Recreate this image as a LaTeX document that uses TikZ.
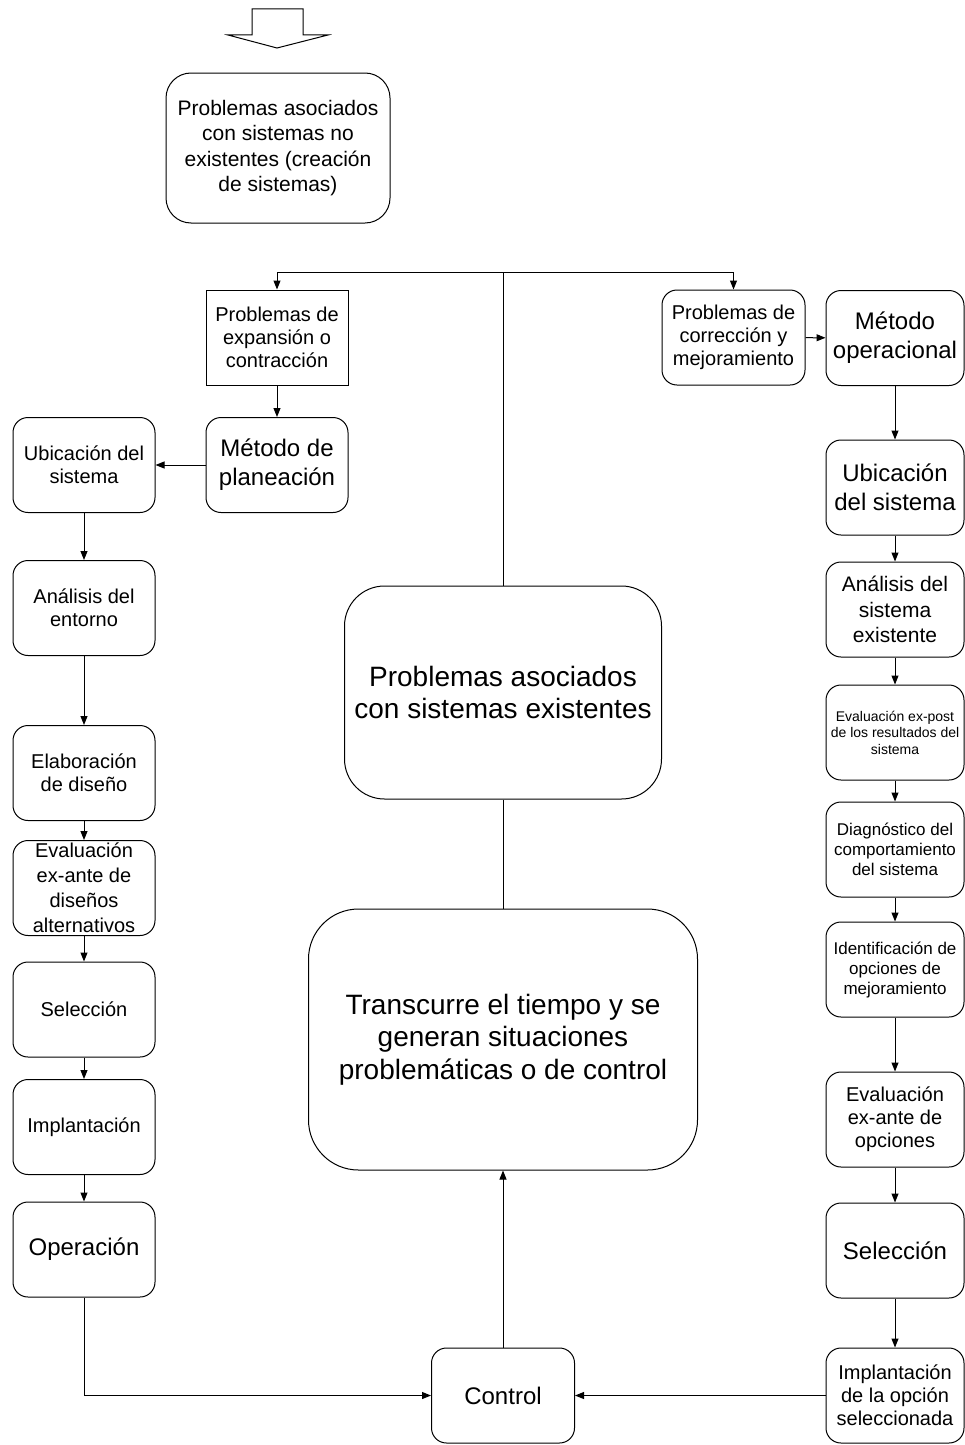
\documentclass[tikz,border=0pt]{standalone}
\usepackage{fontspec}
\setmainfont{Liberation Sans}
\usetikzlibrary{arrows.meta}

\begin{document}
\begin{tikzpicture}[x=1pt,y=-1pt,
        caja/.style={draw=black,line width=1pt,rounded corners=15pt,inner sep=0pt,align=center,minimum width=142pt,minimum height=95pt},
        der/.style={caja,minimum width=138pt},
        flecha/.style={line width=1pt,-{Triangle[length=9pt,width=7pt]}},
        linea/.style={line width=1pt},
        t14/.style={font=\fontsize{14}{16.5}\selectfont},
        t17/.style={font=\fontsize{17}{20}\selectfont},
        t20/.style={font=\fontsize{20}{23}\selectfont},
        t21/.style={font=\fontsize{21}{25.5}\selectfont},
        t24/.style={font=\fontsize{24}{29}\selectfont},
        t28/.style={font=\fontsize{28}{32.5}\selectfont}]
    \useasboundingbox (0,0) rectangle (965,1445);

    % flecha de bloque
    \draw[linea] (252,9) -- (303,9) -- (303,35) -- (328,35) -- (277,48) -- (228,35) -- (252,35) -- cycle;

    \node[caja,t21,minimum width=224pt,minimum height=150pt,rounded corners=25pt] (A) at (278,148) {Problemas asociados\\con sistemas no\\existentes (creación\\de sistemas)};
    \node[caja,t20,rounded corners=0pt] (B) at (277,337.5) {Problemas de\\expansión o\\contracción};
    \node[caja,t20,minimum width=143pt] (C) at (733.5,337.5) {Problemas de\\corrección y\\mejoramiento};
    \node[der,t24] (D) at (895,338) {Método\\operacional};
    \node[caja,t24] (E) at (277,465) {Método de\\planeación};

    % columna izquierda
    \node[caja,t20] (F) at (84,465) {Ubicación del\\sistema};
    \node[caja,t20] (G) at (84,608) {Análisis del\\entorno};
    \node[caja,t20] (H) at (84,773) {Elaboración\\de diseño};
    \node[caja,font=\fontsize{20}{25}\selectfont] (I) at (84,888) {Evaluación\\ex-ante de\\diseños\\alternativos};
    \node[caja,t20] (J) at (84,1009.5) {Selección};
    \node[caja,t20] (K) at (84,1127) {Implantación};
    \node[caja,t24] (L) at (84,1249.5) {Operación};

    % centro
    \node[caja,t28,minimum width=317pt,minimum height=213pt,rounded corners=40pt] (N) at (503,692.5) {Problemas asociados\\con sistemas existentes};
    \node[caja,t28,minimum width=389pt,minimum height=261pt,rounded corners=50pt] (O) at (503,1039.5) {Transcurre el tiempo y se\\generan situaciones\\problemáticas o de control};
    \node[caja,t24,minimum width=143pt] (M) at (503,1395.5) {Control};

    % columna derecha
    \node[der,t24] (P) at (895,487.5) {Ubicación\\del sistema};
    \node[der,t21] (Q) at (895,609.5) {Análisis del\\sistema\\existente};
    \node[der,t14] (R) at (895,732.5) {Evaluación ex-post\\de los resultados del\\sistema};
    \node[der,t17] (S) at (895,849.5) {Diagnóstico del\\comportamiento\\del sistema};
    \node[der,t17] (T) at (895,969.5) {Identificación de\\opciones de\\mejoramiento};
    \node[der,t20] (U) at (895,1119.5) {Evaluación\\ex-ante de\\opciones};
    \node[der,t24] (V) at (895,1250.5) {Selección};
    \node[der,t20] (W) at (895,1395.5) {Implantación\\de la opción\\seleccionada};

    \coordinate (Y) at (503,272);

    \draw[flecha] (Y) -| (B);
    \draw[flecha] (Y) -| (C);
    \path[linea] (Y) edge (N);
    \path[linea] (N) edge (O);
    \path[flecha] (C) edge (D);
    \path[flecha] (B) edge (E);
    \path[flecha] (E) edge (F);
    \path[flecha] (F) edge (G);
    \path[flecha] (G) edge (H);
    \path[flecha] (H) edge (I);
    \path[flecha] (I) edge (J);
    \path[flecha] (J) edge (K);
    \path[flecha] (K) edge (L);
    \draw[flecha] (L) |- (M);
    \path[flecha] (D) edge (P);
    \path[flecha] (P) edge (Q);
    \path[flecha] (Q) edge (R);
    \path[flecha] (R) edge (S);
    \path[flecha] (S) edge (T);
    \path[flecha] (T) edge (U);
    \path[flecha] (U) edge (V);
    \path[flecha] (V) edge (W);
    \path[flecha] (W) edge (M);
    \path[flecha] (M) edge (O);
\end{tikzpicture}
\end{document}
